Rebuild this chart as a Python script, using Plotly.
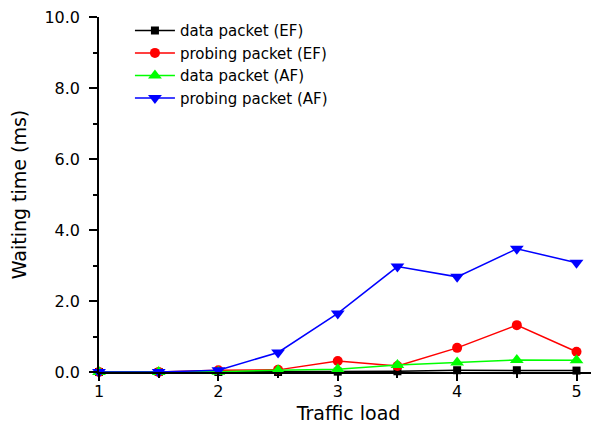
import plotly.graph_objects as go

traffic_load = [1, 1.5, 2, 2.5, 3, 3.5, 4, 4.5, 5]

data_ef = [0.0, 0.0, 0.0, 0.0, 0.01, 0.02, 0.05, 0.05, 0.04]
probing_ef = [0.0, 0.0, 0.05, 0.06, 0.31, 0.17, 0.68, 1.32, 0.57]
data_af = [0.0, 0.0, 0.01, 0.05, 0.08, 0.2, 0.27, 0.34, 0.33]
probing_af = [0.0, 0.0, 0.05, 0.55, 1.65, 2.97, 2.68, 3.47, 3.08]

x_ticks = [1, 2, 3, 4, 5]
y_ticks = [0, 2, 4, 6, 8, 10]

series = [
    ('data packet (EF)', data_ef, 'black', 'square', 8),
    ('probing packet (EF)', probing_ef, 'red', 'circle', 10),
    ('data packet (AF)', data_af, '#00ff00', 'triangle-up', 12),
    ('probing packet (AF)', probing_af, 'blue', 'triangle-down', 12),
]

fig = go.Figure()

for name, values, color, symbol, size in series:
    fig.add_trace(go.Scatter(
        x=traffic_load,
        y=values,
        mode='lines+markers',
        name=name,
        line=dict(color=color, width=1.5),
        marker=dict(color=color, symbol=symbol, size=size, line=dict(width=0)),
        cliponaxis=False
    ))

# page body has an 8px margin, so the figure is a bit smaller than the window
fig.update_layout(
    width=591,
    height=416,
    margin=dict(l=91, r=1, t=9, b=52),
    plot_bgcolor='white',
    paper_bgcolor='white',
    font=dict(family='DejaVu Sans', size=16, color='black'),
    showlegend=True,
    legend=dict(
        x=0.062, y=1.008,
        xanchor='left', yanchor='top',
        bgcolor='rgba(0,0,0,0)',
        font=dict(size=15),
        tracegroupgap=0,
        itemwidth=40
    ),
    xaxis=dict(
        title=dict(text='Traffic load', standoff=7),
        automargin=False,
        range=[1, 5.18],
        tickvals=x_ticks,
        ticks='outside', ticklen=7, tickwidth=1.5, tickcolor='black',
        ticklabelstandoff=-3,
        ticklabeloverflow='allow',
        minor=dict(tickvals=[1.5, 2.5, 3.5, 4.5], ticks='outside', ticklen=4, tickwidth=1.5, tickcolor='black'),
        showline=True, linecolor='black', linewidth=1.5,
        showgrid=False, zeroline=False
    ),
    yaxis=dict(
        title=dict(text='Waiting time (ms)', standoff=28),
        automargin=False,
        range=[0, 10],
        tickvals=y_ticks, tickformat='.1f',
        ticks='outside', ticklen=8, tickwidth=1.5, tickcolor='black',
        ticklabelstandoff=6,
        ticklabeloverflow='allow',
        minor=dict(dtick=1, ticks='outside', ticklen=4, tickwidth=1.5, tickcolor='black'),
        showline=True, linecolor='black', linewidth=1.5,
        showgrid=False, zeroline=False
    )
)

fig.write_html("out.html")
